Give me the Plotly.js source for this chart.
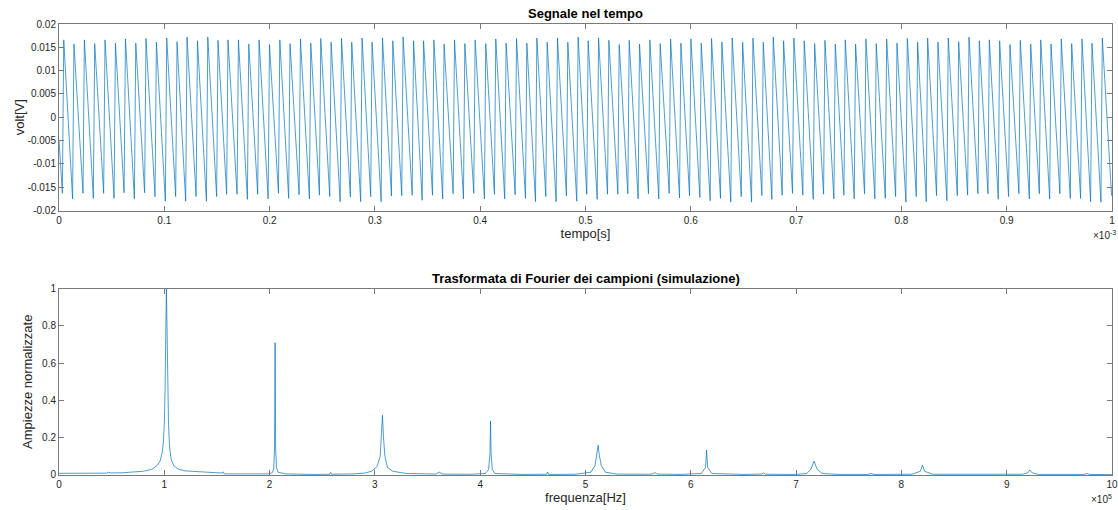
<!DOCTYPE html>
<html>
<head>
<meta charset="utf-8">
<script src="https://cdn.plot.ly/plotly-3.0.1.min.js"></script>
<style>
  html, body { margin: 0; padding: 0; background: #ffffff; }
  #chart { width: 1118px; height: 510px; }
</style>
</head>
<body>
<div id="chart"></div>
<script>
// ---------- Top plot: signal in time ----------
// time in microseconds, voltage in volts
const startTimeUs = 0;
const startVolt = -0.0048;

const peakTimeUs = [
  4.5, 14.2, 24.1, 33.9, 43.7, 53.6, 63.1, 72.9, 82.6, 92.5,
  102.3, 112.1, 121.6, 131.5, 141.3, 151.0, 160.5, 170.4, 180.2, 190.0,
  199.9, 209.7, 219.4, 229.3, 239.1, 248.6, 258.4, 268.3, 278.0, 287.8,
  297.3, 307.2, 317.0, 326.8, 336.7, 346.2, 356.0, 365.7, 375.6, 385.4,
  395.2, 405.3, 414.8, 424.6, 434.5, 444.3, 453.8, 463.6, 473.4, 483.2,
  493.0, 502.5, 512.4, 522.2, 532.0, 541.5, 551.3, 561.1, 570.9, 580.8,
  590.6, 600.1, 609.9, 619.7, 629.5, 639.3, 649.2, 659.0, 668.8, 678.3,
  688.1, 697.9, 707.7, 717.6, 727.4, 737.2, 746.7, 756.5, 766.3, 776.1,
  786.0, 795.8, 805.6, 815.4, 824.9, 834.7, 844.5, 854.4, 864.2, 874.0,
  883.5, 893.3, 903.1, 912.9, 922.8, 932.3, 942.1, 951.8, 961.7, 971.5,
  981.0, 990.8
];
const peakVolt = [
  0.0166, 0.0157, 0.0166, 0.0158, 0.0166, 0.0159, 0.0168, 0.0159, 0.0169, 0.0161,
  0.0170, 0.0162, 0.0172, 0.0164, 0.0172, 0.0165, 0.0166, 0.0166, 0.0157, 0.0166,
  0.0156, 0.0166, 0.0158, 0.0168, 0.0159, 0.0169, 0.0161, 0.0169, 0.0161, 0.0170,
  0.0161, 0.0170, 0.0164, 0.0172, 0.0164, 0.0164, 0.0166, 0.0157, 0.0166, 0.0158,
  0.0166, 0.0158, 0.0168, 0.0159, 0.0169, 0.0159, 0.0170, 0.0161, 0.0170, 0.0161,
  0.0172, 0.0164, 0.0170, 0.0165, 0.0156, 0.0165, 0.0157, 0.0166, 0.0158, 0.0168,
  0.0159, 0.0168, 0.0159, 0.0169, 0.0161, 0.0170, 0.0161, 0.0170, 0.0161, 0.0172,
  0.0164, 0.0170, 0.0164, 0.0158, 0.0165, 0.0157, 0.0166, 0.0157, 0.0168, 0.0158,
  0.0168, 0.0159, 0.0169, 0.0161, 0.0170, 0.0161, 0.0170, 0.0162, 0.0172, 0.0164,
  0.0166, 0.0164, 0.0156, 0.0165, 0.0157, 0.0166, 0.0157, 0.0168, 0.0158, 0.0168,
  0.0159, 0.0170
];
const troughTimeUs = [
  3.2, 12.9, 22.8, 32.6, 42.4, 52.3, 61.8, 71.6, 81.3, 91.2,
  101.0, 110.8, 120.3, 130.2, 140.0, 149.7, 159.2, 169.1, 178.9, 188.7,
  198.6, 208.4, 218.1, 228.0, 237.8, 247.3, 257.1, 267.0, 276.7, 286.5,
  296.0, 305.9, 315.7, 325.5, 335.4, 344.9, 354.7, 364.4, 374.3, 384.1,
  393.9, 404.0, 413.5, 423.3, 433.2, 443.0, 452.5, 462.3, 472.1, 481.9,
  491.7, 501.2, 511.1, 520.9, 530.7, 540.2, 550.0, 559.8, 569.6, 579.5,
  589.3, 598.8, 608.6, 618.4, 628.2, 638.0, 647.9, 657.7, 667.5, 677.0,
  686.8, 696.6, 706.4, 716.3, 726.1, 735.9, 745.4, 755.2, 765.0, 774.8,
  784.7, 794.5, 804.3, 814.1, 823.6, 833.4, 843.2, 853.1, 862.9, 872.7,
  882.2, 892.0, 901.8, 911.6, 921.5, 931.0, 940.8, 950.5, 960.4, 970.2,
  979.7, 989.5
];
const troughVolt = [
  -0.0163, -0.0175, -0.0163, -0.0174, -0.0163, -0.0174, -0.0162, -0.0175, -0.0162, -0.0170,
  -0.0180, -0.0170, -0.0180, -0.0170, -0.0180, -0.0170, -0.0165, -0.0165, -0.0176, -0.0165,
  -0.0175, -0.0163, -0.0174, -0.0166, -0.0175, -0.0167, -0.0170, -0.0181, -0.0171, -0.0181,
  -0.0170, -0.0181, -0.0169, -0.0168, -0.0167, -0.0178, -0.0167, -0.0175, -0.0164, -0.0175,
  -0.0163, -0.0175, -0.0165, -0.0175, -0.0166, -0.0174, -0.0181, -0.0170, -0.0181, -0.0169,
  -0.0180, -0.0165, -0.0176, -0.0165, -0.0165, -0.0164, -0.0175, -0.0164, -0.0175, -0.0163,
  -0.0173, -0.0168, -0.0172, -0.0179, -0.0174, -0.0182, -0.0170, -0.0182, -0.0168, -0.0176,
  -0.0167, -0.0163, -0.0167, -0.0176, -0.0165, -0.0175, -0.0167, -0.0175, -0.0164, -0.0175,
  -0.0174, -0.0170, -0.0182, -0.0170, -0.0181, -0.0168, -0.0179, -0.0168, -0.0167, -0.0164,
  -0.0164, -0.0176, -0.0170, -0.0164, -0.0175, -0.0164, -0.0175, -0.0164, -0.0174, -0.0174,
  -0.0181, -0.0182
];
const endTimeUs = 999.6;
const endVolt = -0.0168;

const timeTickLabels = ['0','0.1','0.2','0.3','0.4','0.5','0.6','0.7','0.8','0.9','1'];
const voltTickLabels = ['-0.02','-0.015','-0.01','-0.005','0','0.005','0.01','0.015','0.02'];
const voltTickValues = [-0.02,-0.015,-0.01,-0.005,0,0.005,0.01,0.015,0.02];

// ---------- Bottom plot: normalised FFT magnitude ----------
const freqHz = [
  0, 0.2e5, 0.45e5, 0.47e5, 0.49e5, 0.6e5, 0.7e5, 0.8e5, 0.88e5, 0.93e5,
  0.96e5, 0.98e5, 0.99e5, 1.0e5, 1.007e5, 1.013e5, 1.02e5, 1.027e5, 1.033e5, 1.04e5,
  1.05e5, 1.065e5, 1.09e5, 1.13e5, 1.2e5, 1.35e5, 1.5e5, 1.55e5, 1.56e5, 1.57e5,
  1.7e5, 1.9e5, 2.0e5, 2.03e5, 2.04e5, 2.047e5, 2.052e5, 2.057e5, 2.065e5, 2.08e5,
  2.15e5, 2.4e5, 2.57e5, 2.58e5, 2.59e5, 2.8e5, 2.9e5, 2.97e5, 3.02e5, 3.05e5,
  3.062e5, 3.072e5, 3.082e5, 3.095e5, 3.12e5, 3.17e5, 3.3e5, 3.5e5, 3.58e5, 3.61e5,
  3.64e5, 3.9e5, 4.05e5, 4.08e5, 4.093e5, 4.098e5, 4.103e5, 4.115e5, 4.14e5, 4.4e5,
  4.63e5, 4.64e5, 4.65e5, 4.9e5, 5.05e5, 5.09e5, 5.11e5, 5.12e5, 5.13e5, 5.15e5,
  5.19e5, 5.3e5, 5.6e5, 5.64e5, 5.66e5, 5.68e5, 5.9e5, 6.1e5, 6.14e5, 6.15e5,
  6.16e5, 6.2e5, 6.5e5, 6.67e5, 6.69e5, 6.71e5, 7.0e5, 7.1e5, 7.14e5, 7.17e5,
  7.2e5, 7.25e5, 7.4e5, 7.68e5, 7.71e5, 7.74e5, 8.1e5, 8.18e5, 8.2e5, 8.22e5,
  8.3e5, 8.68e5, 8.7e5, 8.72e5, 9.15e5, 9.2e5, 9.22e5, 9.24e5, 9.3e5, 9.73e5,
  9.76e5, 9.79e5, 1e6
];
const ampNorm = [
  0.009, 0.009, 0.010, 0.015, 0.011, 0.012, 0.015, 0.020, 0.030, 0.050,
  0.075, 0.120, 0.170, 0.270, 0.450, 0.800, 1.000, 0.750, 0.450, 0.270,
  0.150, 0.085, 0.050, 0.032, 0.022, 0.015, 0.012, 0.011, 0.017, 0.006,
  0.005, 0.004, 0.006, 0.015, 0.040, 0.150, 0.710, 0.150, 0.040, 0.015,
  0.006, 0.003, 0.004, 0.014, 0.004, 0.006, 0.010, 0.020, 0.045, 0.100,
  0.200, 0.320, 0.200, 0.100, 0.040, 0.020, 0.008, 0.004, 0.005, 0.016,
  0.005, 0.004, 0.008, 0.030, 0.120, 0.290, 0.120, 0.030, 0.008, 0.003,
  0.004, 0.016, 0.003, 0.004, 0.015, 0.050, 0.110, 0.160, 0.110, 0.050,
  0.015, 0.005, 0.004, 0.006, 0.013, 0.005, 0.003, 0.008, 0.040, 0.134,
  0.040, 0.008, 0.003, 0.005, 0.011, 0.004, 0.003, 0.008, 0.030, 0.075,
  0.030, 0.008, 0.003, 0.003, 0.008, 0.003, 0.004, 0.020, 0.054, 0.020,
  0.004, 0.003, 0.005, 0.002, 0.004, 0.012, 0.027, 0.012, 0.003, 0.003,
  0.008, 0.003, 0.002
];
const freqTickLabels = ['0','1','2','3','4','5','6','7','8','9','10'];
const ampTickLabels = ['0','0.2','0.4','0.6','0.8','1'];
const ampTickValues = [0,0.2,0.4,0.6,0.8,1];

// ---------- Build traces ----------
const sigX = [startTimeUs * 1e-6];
const sigY = [startVolt];
for (let i = 0; i < peakTimeUs.length; i++) {
  sigX.push(troughTimeUs[i] * 1e-6); sigY.push(troughVolt[i]);
  sigX.push(peakTimeUs[i] * 1e-6);   sigY.push(peakVolt[i]);
}
sigX.push(endTimeUs * 1e-6); sigY.push(endVolt);

const lineColor = '#0072BD';
const traces = [
  { x: sigX, y: sigY, type: 'scatter', mode: 'lines', xaxis: 'x', yaxis: 'y',
    line: { color: lineColor, width: 0.7 }, hoverinfo: 'skip', showlegend: false },
  { x: freqHz, y: ampNorm, type: 'scatter', mode: 'lines', xaxis: 'x2', yaxis: 'y2',
    line: { color: lineColor, width: 0.7 }, hoverinfo: 'skip', showlegend: false }
];

const axisGrey = '#7a7a7a';
const fontFam = 'Liberation Sans, Arial, sans-serif';
const tickFont = { family: fontFam, size: 10, color: '#262626' };
const labelFont = { family: fontFam, size: 13, color: '#262626' };
const common = {
  showgrid: false, zeroline: false, showline: true, mirror: 'ticks',
  linecolor: axisGrey, linewidth: 1, ticks: 'inside', ticklen: 5,
  tickcolor: axisGrey, tickwidth: 1, tickfont: tickFont, fixedrange: true
};
const timeTicks = timeTickLabels.map((s) => parseFloat(s) * 1e-3);
const freqTicks = freqTickLabels.map((s) => parseFloat(s) * 1e5);

const layout = {
  width: 1118, height: 510,
  paper_bgcolor: '#ffffff', plot_bgcolor: '#ffffff',
  margin: { l: 59, r: 6, t: 24, b: 35 },
  showlegend: false,
  xaxis: Object.assign({}, common, {
    domain: [0, 1], anchor: 'y', range: [0, 1e-3],
    tickmode: 'array', tickvals: timeTicks, ticktext: timeTickLabels,
    title: { text: 'tempo[s]', font: labelFont, standoff: 1 }
  }),
  yaxis: Object.assign({}, common, {
    domain: [0.5864, 1], anchor: 'x', range: [-0.02, 0.02],
    tickmode: 'array', tickvals: voltTickValues, ticktext: voltTickLabels,
    title: { text: 'volt[V]', font: labelFont, standoff: 0 }
  }),
  xaxis2: Object.assign({}, common, {
    domain: [0, 1], anchor: 'y2', range: [0, 1e6],
    tickmode: 'array', tickvals: freqTicks, ticktext: freqTickLabels,
    title: { text: 'frequenza[Hz]', font: labelFont, standoff: 1 }
  }),
  yaxis2: Object.assign({}, common, {
    domain: [0, 0.4134], anchor: 'x2', range: [0, 1],
    tickmode: 'array', tickvals: ampTickValues, ticktext: ampTickLabels,
    title: { text: 'Ampiezze normalizzate', font: labelFont, standoff: 6 }
  }),
  annotations: [
    { text: '<b>Segnale nel tempo</b>', xref: 'paper', yref: 'paper', x: 0.5, y: 1,
      yanchor: 'bottom', yshift: 1, showarrow: false,
      font: { family: fontFam, size: 13, color: '#000000' } },
    { text: '<b>Trasformata di Fourier dei campioni (simulazione)</b>', xref: 'paper', yref: 'paper',
      x: 0.5, y: 0.4134, yanchor: 'bottom', yshift: 1, showarrow: false,
      font: { family: fontFam, size: 13, color: '#000000' } },
    { text: '×10<sup>-3</sup>', xref: 'paper', yref: 'paper', x: 1, y: 0.5864,
      xanchor: 'right', yanchor: 'top', yshift: -16, xshift: 6, showarrow: false,
      font: { family: fontFam, size: 10, color: '#262626' } },
    { text: '×10<sup>5</sup>', xref: 'paper', yref: 'paper', x: 1, y: 0,
      xanchor: 'right', yanchor: 'top', yshift: -16, xshift: 2, showarrow: false,
      font: { family: fontFam, size: 10, color: '#262626' } }
  ]
};

Plotly.newPlot('chart', traces, layout, { displayModeBar: false, staticPlot: true });
</script>
</body>
</html>
